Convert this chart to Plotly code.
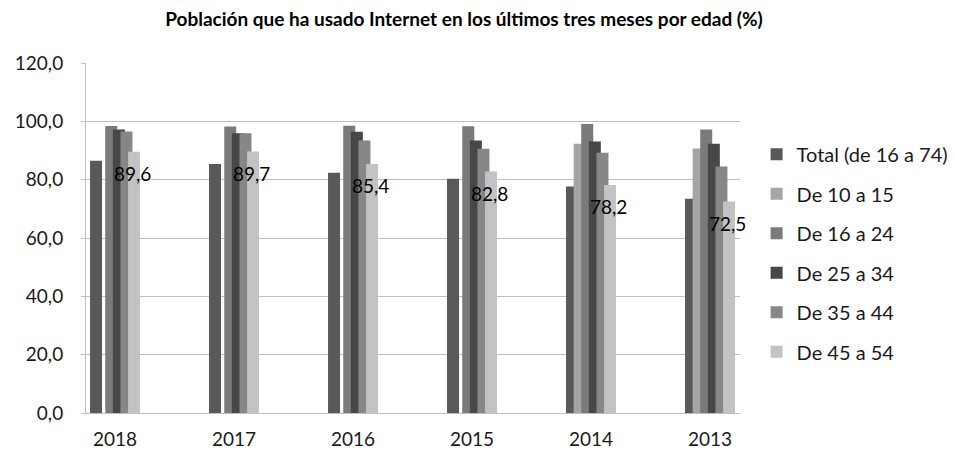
import plotly.graph_objects as go

years = ["2018", "2017", "2016", "2015", "2014", "2013"]
series_names = ["Total (de 16 a 74)", "De 10 a 15", "De 16 a 24", "De 25 a 34", "De 35 a 44", "De 45 a 54"]
total = [86.5, 85.4, 82.4, 80.3, 77.7, 73.5]
de10_15 = [None, None, None, None, 92.3, 90.7]
de16_24 = [98.4, 98.2, 98.5, 98.3, 99.1, 97.2]
de25_34 = [97.2, 95.9, 96.4, 93.4, 93.1, 92.3]
de35_44 = [96.5, 95.9, 93.4, 90.6, 89.2, 84.5]
de45_54 = [89.6, 89.7, 85.4, 82.8, 78.2, 72.5]
y_ticks = [0, 20, 40, 60, 80, 100, 120]

all_series = [total, de10_15, de16_24, de25_34, de35_44, de45_54]
colors = ["#595959", "#a5a5a5", "#7a7a7a", "#474747", "#878787", "#c3c3c3"]

FONT = "Lato"
bar_w = 0.1008
step = 0.0639
start = -0.21

# page has an 8px body margin: figure is sized/placed to compensate
W, H = 947, 442
L, R, T, B = 78, 215, 55, 37

fig = go.Figure()
for k, (name, vals, col) in enumerate(zip(series_names, all_series, colors)):
    fig.add_trace(go.Bar(
        x=years, y=vals, name=name, marker=dict(color=col, line=dict(width=0)),
        width=bar_w, offset=start + k * step, legendgroup=name,
    ))

for i, v in enumerate(de45_54):
    fig.add_annotation(
        x=i, y=v, xref="x", yref="y", text=f"{v:.1f}".replace(".", ","), showarrow=False,
        xshift=17.5, yshift=-22, yanchor="middle", xanchor="center",
        font=dict(family=FONT, size=19, color="#000000"),
    )

fig.update_layout(
    width=W, height=H,
    barmode="overlay",
    separators=",.",
    paper_bgcolor="white", plot_bgcolor="white",
    margin=dict(l=L, r=R, t=T, b=B, autoexpand=False),
    title=dict(
        text="<b>Población que ha usado Internet en los últimos tres meses por edad (%)</b>",
        x=456 / W, xanchor="center", y=1 - 11 / H, yanchor="middle",
        font=dict(family=FONT, size=19, color="#000000"),
    ),
    legend=dict(
        x=1.0254, xanchor="left", y=0.795, yanchor="top",
        font=dict(family=FONT, size=20, color="#1a1a1a"),
        tracegroupgap=10.5, itemwidth=30, bgcolor="rgba(0,0,0,0)",
    ),
    showlegend=True,
)
fig.update_xaxes(
    type="category", range=[-0.244, 5.252], showline=True, linecolor="#bfbfbf",
    linewidth=1, ticks="", showgrid=False,
    tickfont=dict(family=FONT, size=19, color="#1a1a1a"), ticklabelstandoff=9,
)
fig.update_yaxes(
    range=[0, 120], tickvals=y_ticks, tickformat=".1f", showgrid=True,
    gridcolor="#bfbfbf", gridwidth=1, zeroline=False, showline=True,
    linecolor="#bfbfbf", ticks="outside", ticklen=4, tickcolor="#bfbfbf",
    tickfont=dict(family=FONT, size=19, color="#1a1a1a"), ticklabelstandoff=14,
)

fig.write_html("out.html")
